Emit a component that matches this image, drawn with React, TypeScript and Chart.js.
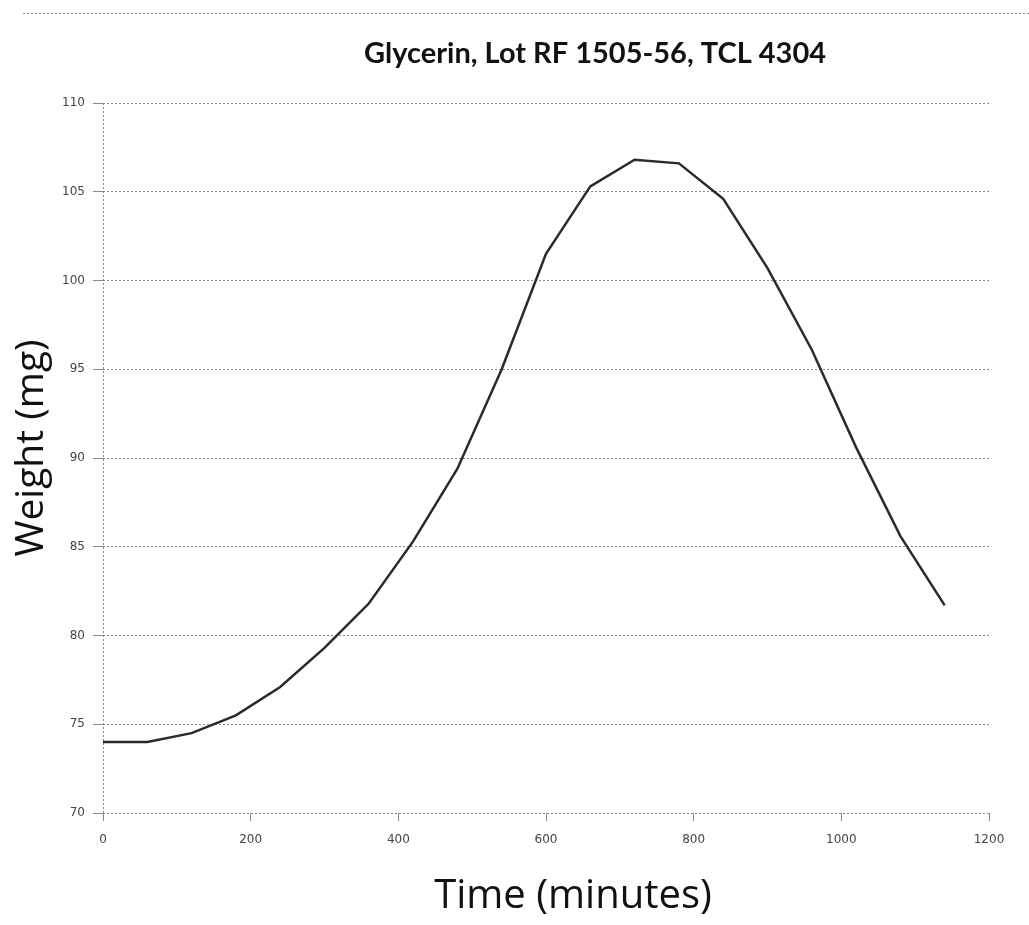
import React, { useEffect, useRef } from "react";
import { Chart, registerables } from "chart.js";

Chart.register(...registerables);

const chartTitle = "Glycerin, Lot RF 1505-56, TCL 4304";
const xAxisTitle = "Time (minutes)";
const yAxisTitle = "Weight (mg)";

const timesMin = [0, 60, 120, 180, 240, 300, 360, 420, 480, 540, 600, 660, 720, 780, 840, 900, 960, 1020, 1080, 1140];
const weightsMg = [74.0, 74.0, 74.5, 75.5, 77.1, 79.3, 81.8, 85.3, 89.4, 95.0, 101.5, 105.3, 106.8, 106.6, 104.6, 100.7, 96.1, 90.6, 85.6, 81.7];

const xTicks = [0, 200, 400, 600, 800, 1000, 1200];
const yTicks = [70, 75, 80, 85, 90, 95, 100, 105, 110];

const GRID = "#8a8a8a";

const textPlugin = {
  id: "textPlugin",
  afterDraw(chart: any) {
    const { ctx, chartArea } = chart;
    const cx = (chartArea.left + chartArea.right) / 2;
    const cy = (chartArea.top + chartArea.bottom) / 2;
    ctx.save();
    // top frame line
    ctx.strokeStyle = GRID;
    ctx.lineWidth = 1;
    ctx.setLineDash([2, 2]);
    ctx.beginPath();
    ctx.moveTo(23, 13.5);
    ctx.lineTo(chart.width, 13.5);
    ctx.stroke();
    ctx.setLineDash([]);
    ctx.fillStyle = "#111";
    ctx.textAlign = "center";
    ctx.textBaseline = "middle";
    ctx.font = "bold 29px Lato, 'Open Sans', sans-serif";
    ctx.fillText(chartTitle, cx + 49, 54);
    ctx.font = "40px 'Open Sans', sans-serif";
    ctx.fillText(xAxisTitle, cx + 27, 897);
    ctx.translate(32, cy - 10);
    ctx.rotate(-Math.PI / 2);
    ctx.font = "39px 'Open Sans', sans-serif";
    ctx.fillText(yAxisTitle, 0, 0);
    ctx.restore();
  },
};

export default function App() {
  const ref = useRef<HTMLCanvasElement>(null);
  useEffect(() => {
    if (!ref.current) return;
    const chart = new Chart(ref.current, {
      type: "line",
      data: {
        datasets: [
          {
            label: "Weight",
            data: timesMin.map((t, i) => ({ x: t, y: weightsMg[i] })),
            borderColor: "#2a2a2a",
            borderWidth: 2.5,
            pointRadius: 0,
            tension: 0,
            fill: false,
          },
        ],
      },
      options: {
        responsive: false,
        animation: false,
        layout: { padding: { top: 103, right: 40, bottom: 0, left: 0 } },
        plugins: { legend: { display: false }, tooltip: { enabled: false }, title: { display: false } },
        scales: {
          x: {
            type: "linear",
            min: 0,
            max: 1200,
            afterBuildTicks: (s: any) => { s.ticks = xTicks.map((v) => ({ value: v })); },
            afterFit: (s: any) => { s.height = 112; },
            border: { display: false, dash: [2, 2] },
            grid: {
              color: (c: any) => (c.tick && c.tick.value === 0 ? GRID : "rgba(0,0,0,0)"),
              tickColor: GRID,
              tickLength: 8,
              lineWidth: 1,
            },
            ticks: {
              color: "#444",
              font: { size: 12, family: "'DejaVu Sans', sans-serif" },
              padding: 12,
              maxRotation: 0,
              callback: (v: any) => String(v),
            },
          },
          y: {
            type: "linear",
            min: 70,
            max: 110,
            afterBuildTicks: (s: any) => { s.ticks = yTicks.map((v) => ({ value: v })); },
            afterFit: (s: any) => { s.width = 103; },
            border: { display: false, dash: [2, 2] },
            grid: { color: GRID, tickColor: GRID, tickLength: 10, lineWidth: 1 },
            ticks: {
              color: "#444",
              font: { size: 12, family: "'DejaVu Sans', sans-serif" },
              padding: 8,
              callback: (v: any) => String(v),
            },
          },
        },
      },
      plugins: [textPlugin],
    });
    return () => chart.destroy();
  }, []);
  return (
    <div style={{ position: "fixed", left: 0, top: 0, width: 1029, height: 925, background: "#fff" }}>
      <canvas ref={ref} width={1029} height={925} />
    </div>
  );
}
